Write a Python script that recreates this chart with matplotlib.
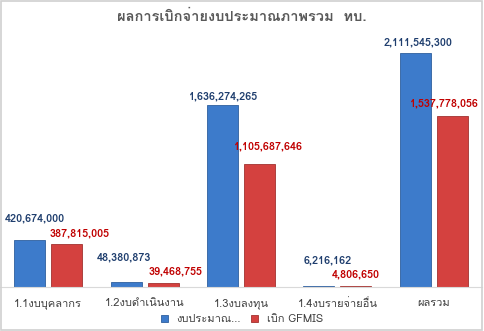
import matplotlib
matplotlib.use('Agg')
import matplotlib.pyplot as plt
from matplotlib.patches import Rectangle
import numpy as np

# data
categories = ['1.1งบบุคลากร', '1.2งบดำเนินงาน', '1.3งบลงทุน', '1.4งบรายจ่ายอื่น', 'ผลรวม']
budget = [420674000, 48380873, 1636274265, 6216162, 2111545300]
gfmis = [387815005, 39468755, 1105687646, 4806650, 1537778056]
series_names = ['งบประมาณ...', 'เบิก GFMIS']

# label nudges (pixels) to mimic Excel placement
budget_off = [(5, 22), (-2, 24), (1, 9), (9, 26), (3, 10)]
gfmis_off = [(13, 11), (12, 11), (9, 18), (0, 12), (-8, 13)]

FONT = ['Loma', 'DejaVu Sans']
plt.rcParams['font.family'] = FONT

blue = '#3D7BCB'
red = '#D4413F'

fig = plt.figure(figsize=(4.84, 3.31), dpi=100)
fig.patch.set_facecolor('white')
fig.patches.append(Rectangle((0.002, 0.004), 0.994, 0.993, transform=fig.transFigure,
                             fill=False, edgecolor='#D0D0D0', linewidth=1.2))

ax = fig.add_axes([0, 44 / 331, 482 / 484, 250 / 331])
x = np.arange(len(categories))
w = 0.32
d = 0.192
b1 = ax.bar(x - d, budget, w, color=blue, edgecolor='#2E5F9E', linewidth=0.6)
b2 = ax.bar(x + d, gfmis, w, color=red, edgecolor='#A23230', linewidth=0.6)

ax.set_xlim(-0.5, 4.5)
ax.set_ylim(0, max(budget) * 250 / 234.3)
for s in ['top', 'right', 'left']:
    ax.spines[s].set_visible(False)
ax.spines['bottom'].set_color('#D9D9D9')
ax.set_yticks([])
ax.set_xticks(x)
ax.set_xticklabels(categories, fontsize=8, color='#404040')
ax.tick_params(axis='x', length=0, pad=8)

for rect, v, off in zip(b1, budget, budget_off):
    ax.annotate(f'{v:,}', (rect.get_x() + rect.get_width() / 2, rect.get_height()),
                xytext=off, textcoords='offset pixels', ha='center', va='center',
                fontsize=7.8, fontweight='bold', color='#1F3E6E')
for rect, v, off in zip(b2, gfmis, gfmis_off):
    ax.annotate(f'{v:,}', (rect.get_x() + rect.get_width() / 2, rect.get_height()),
                xytext=off, textcoords='offset pixels', ha='center', va='center',
                fontsize=7.8, fontweight='bold', color='#C00000')

fig.text(0.5, 1 - 17 / 331, 'ผลการเบิกจ่ายงบประมาณภาพรวม  ทบ.', ha='center', va='center',
         fontsize=10.5, fontweight='bold', color='#595959')

leg = fig.legend([b1, b2], series_names, loc='center', bbox_to_anchor=(0.5, 1 - 319 / 331),
                 ncol=2, frameon=False, fontsize=8, handlelength=0.6, handleheight=0.6,
                 handletextpad=0.8, columnspacing=0.9)
for t in leg.get_texts():
    t.set_color('#404040')

fig.savefig('out.png', dpi=100)
